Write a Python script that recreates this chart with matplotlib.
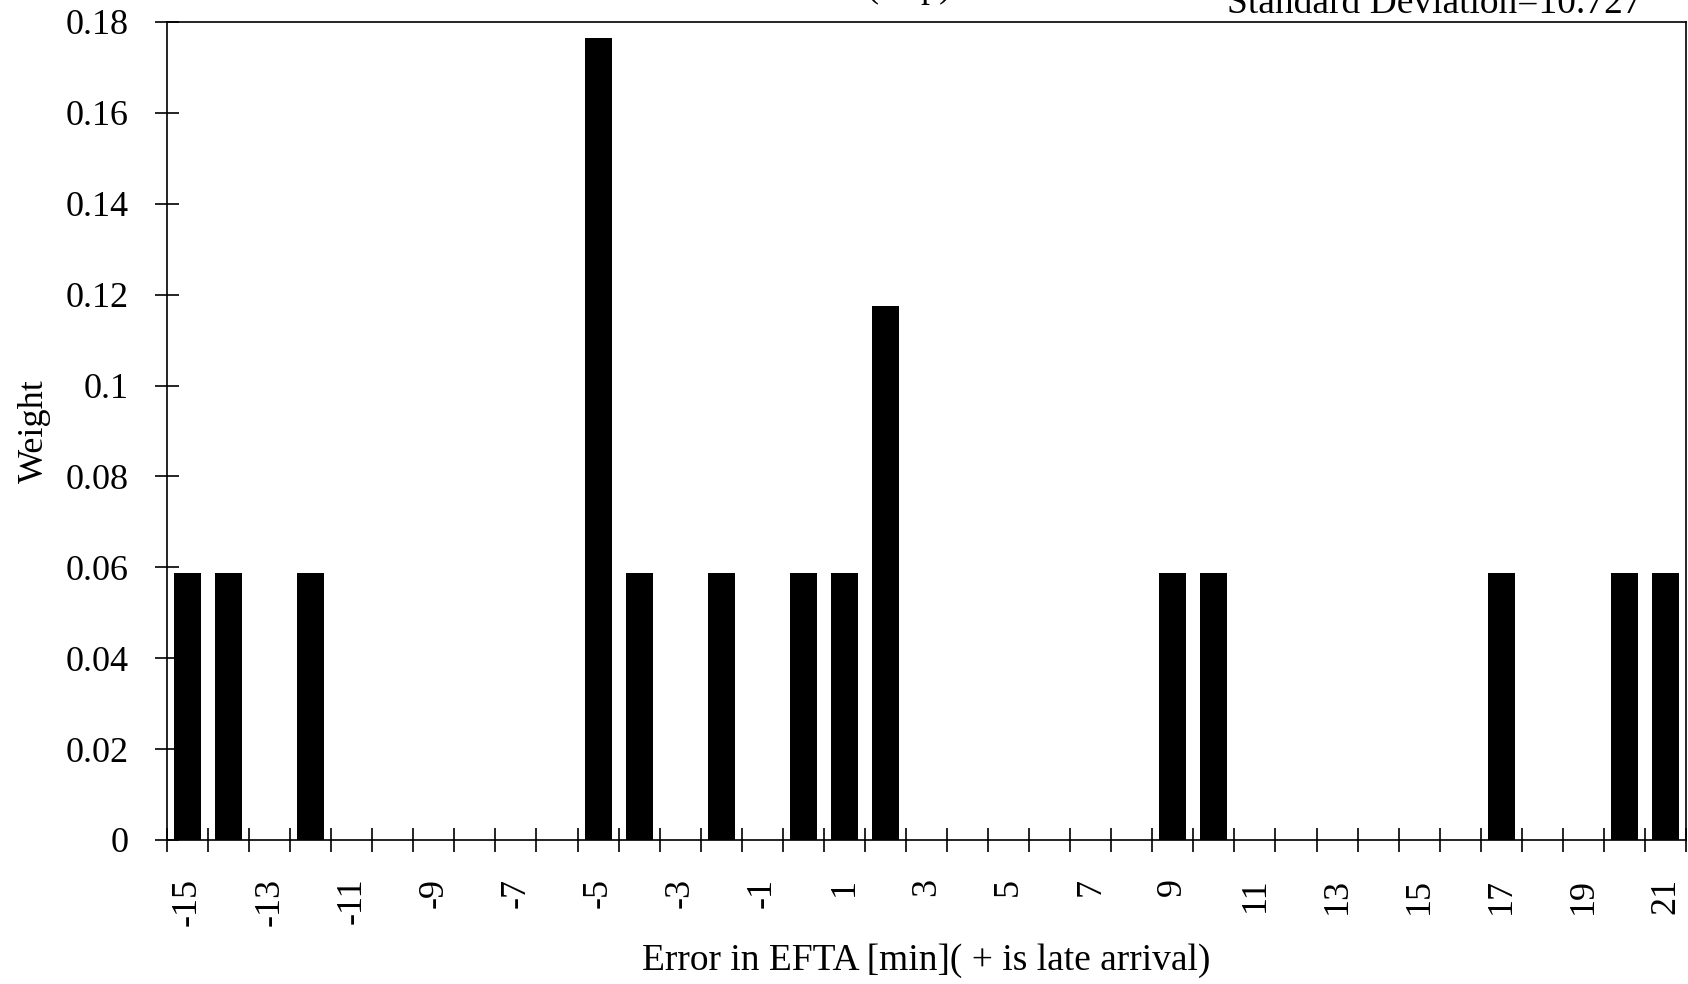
import numpy as np
import matplotlib
matplotlib.use("Agg")
import matplotlib.pyplot as plt
from matplotlib.ticker import FuncFormatter

plt.rcParams['font.family'] = ['Liberation Serif', 'DejaVu Serif']

# Error categories in minutes (-15 .. 21) and their weights
errors = list(range(-15, 22))
weights = [0.0588, 0.0588, 0, 0.0588, 0, 0, 0, 0, 0, 0,
           0.1765, 0.0588, 0, 0.0588, 0, 0.0588, 0.0588, 0.1176, 0, 0,
           0, 0, 0, 0, 0.0588, 0.0588, 0, 0, 0, 0,
           0, 0, 0.0588, 0, 0, 0.0588, 0.0588]
tick_labels = [str(e) if (e + 15) % 2 == 0 else '' for e in errors]
y_ticks = np.arange(0, 0.181, 0.02)

fig = plt.figure(figsize=(16.88, 9.84), dpi=100)
ax = fig.add_axes([167/1688, 1 - 840/984, (1686 - 167)/1688, (840 - 22)/984])

pos = np.arange(len(errors))
ax.bar(pos, weights, width=0.66, color='black')

ax.set_xlim(-0.5, len(errors) - 0.5)
ax.set_ylim(0, 0.18)

# ticks sit on category boundaries, labels at category centres
ax.set_xticks(np.arange(-0.5, len(errors), 1.0))
ax.set_xticklabels([])
ax.set_xticks(pos, minor=True)
ax.set_xticklabels(tick_labels, minor=True, rotation=90, fontsize=26)
ax.tick_params(axis='x', which='major', direction='inout', length=17, width=1.2)
ax.tick_params(axis='x', which='minor', length=0, pad=27)

ax.set_yticks(y_ticks)
ax.yaxis.set_major_formatter(FuncFormatter(lambda v, p: '%g' % round(v, 2)))
ax.tick_params(axis='y', direction='inout', length=17, width=1.2, labelsize=26, pad=19)

for s in ax.spines.values():
    s.set_linewidth(1.2)

ax.set_ylabel('Weight', fontsize=26, labelpad=11)
ax.set_xlabel('Error in EFTA [min]( + is late arrival)', fontsize=27, labelpad=13)

# header texts, partly running off the top edge as in the scan
fig.text(1642/1688, 1 - 13/984, 'Standard Deviation=10.727', fontsize=27,
         ha='right', va='baseline')
fig.text(866/1688, 1 + 3/984, '(Trip)', fontsize=26, ha='left', va='baseline')

fig.savefig('out.png', dpi=100)
